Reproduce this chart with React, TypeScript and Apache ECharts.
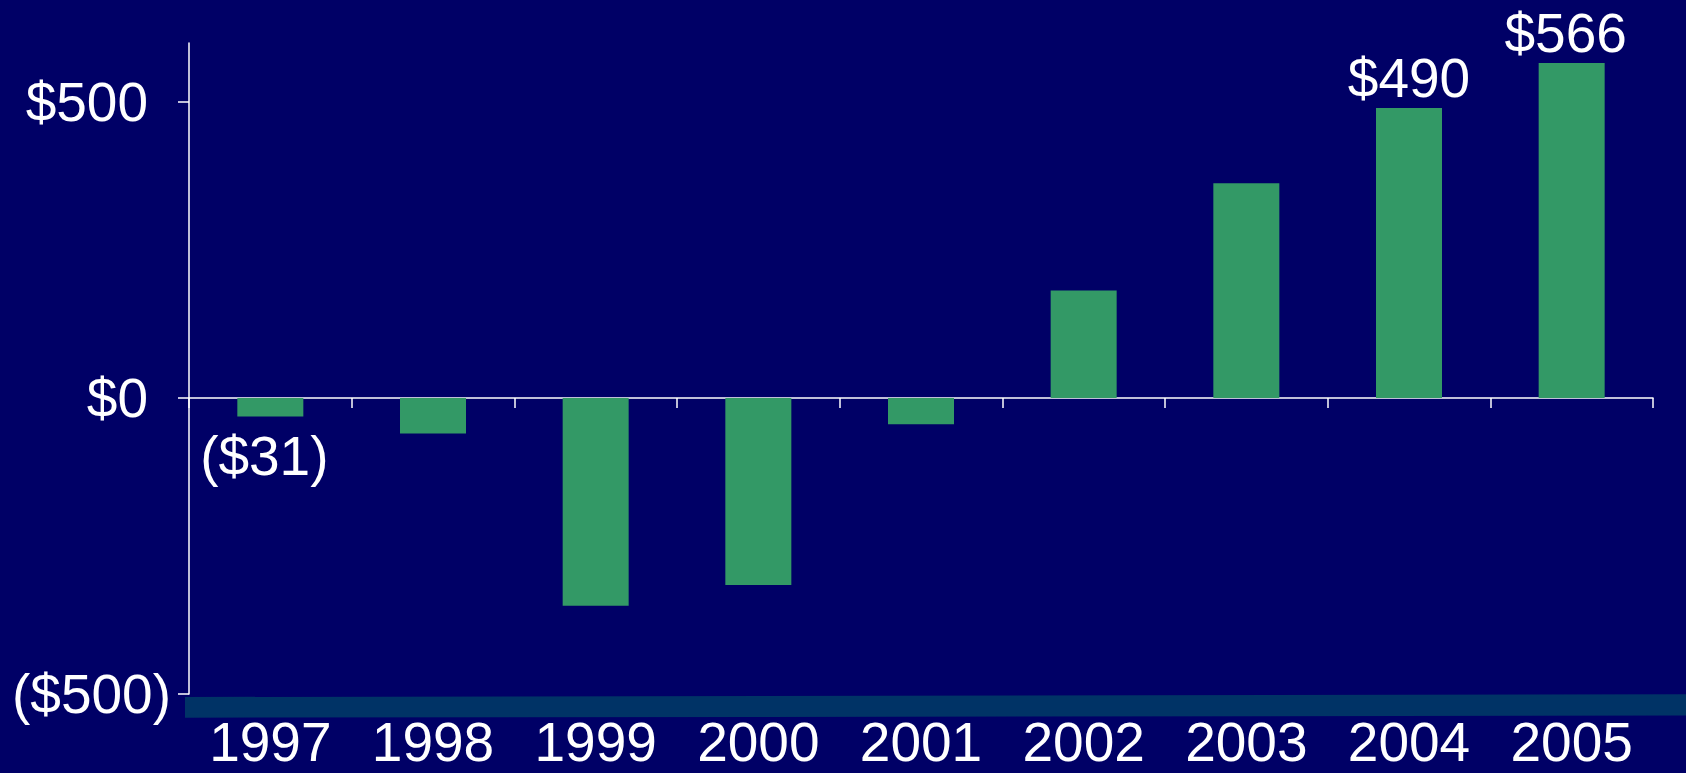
import React, { useEffect, useRef } from 'react';
import * as echarts from 'echarts';

const years = ['1997', '1998', '1999', '2000', '2001', '2002', '2003', '2004', '2005'];
const netIncome = [-31, -60, -351, -316, -44, 182, 363, 490, 566];
const labeledYears = ['1997', '2004', '2005'];
const yTicks = [-500, 0, 500];

const FONT = '"Liberation Sans", Arial, Helvetica, sans-serif';
const BG = '#000066';
const BAR = '#339966';
const BAND = '#003366';
const FS = 55;

const money = (v: number) => (v < 0 ? `($${Math.abs(v)})` : `$${v}`);

export default function App() {
  const ref = useRef<HTMLDivElement>(null);

  useEffect(() => {
    if (!ref.current) return;
    const chart = echarts.init(ref.current, null, { renderer: 'svg' });

    const data = netIncome.map((v, i) => {
      const show = labeledYears.includes(years[i]);
      return {
        value: v,
        label: {
          show,
          position: v < 0 ? 'bottom' : 'top',
          distance: v < 0 ? 12 : 2,
          offset: [years[i] === '2004' ? 0 : -6, 0],
          formatter: () => money(v),
        },
      };
    });

    chart.setOption({
      animation: false,
      backgroundColor: BG,
      textStyle: { fontFamily: FONT },
      grid: { left: 189, right: 33, top: 43, bottom: 79, containLabel: false },
      xAxis: [
        {
          type: 'category',
          data: years,
          position: 'bottom',
          axisLine: { show: true, onZero: true, lineStyle: { color: '#ffffff', width: 1.5 } },
          axisTick: { show: true, length: 10, lineStyle: { color: '#ffffff', width: 1.5 } },
          axisLabel: { show: false },
          splitLine: { show: false },
        },
        {
          type: 'category',
          data: years,
          position: 'bottom',
          axisLine: { show: false, onZero: false },
          axisTick: { show: false },
          axisLabel: {
            show: true,
            color: '#ffffff',
            fontSize: FS,
            lineHeight: 44,
            fontFamily: FONT,
            margin: 26,
          },
          splitLine: { show: false },
        },
      ],
      yAxis: {
        type: 'value',
        min: -500,
        max: 600,
        axisLine: { show: true, lineStyle: { color: '#ffffff', width: 1.5 } },
        axisTick: {
          show: true,
          length: 11,
          customValues: yTicks,
          lineStyle: { color: '#ffffff', width: 1.5 },
        },
        axisLabel: {
          show: true,
          customValues: yTicks,
          color: '#ffffff',
          fontSize: FS,
          fontFamily: FONT,
          margin: 18,
          formatter: (v: number) => (v < 0 ? `{n|${money(v)}}` : `{p|${money(v)}}`),
          rich: {
            n: { color: '#ffffff', fontSize: FS, fontFamily: FONT },
            p: { color: '#ffffff', fontSize: FS, fontFamily: FONT, padding: [0, 23, 0, 0] },
          },
        },
        splitLine: { show: false },
      },
      series: [
        {
          type: 'bar',
          xAxisIndex: 0,
          data,
          barWidth: 66,
          itemStyle: { color: BAR },
          label: { color: '#ffffff', fontSize: FS, lineHeight: 56, fontFamily: FONT },
        },
      ],
      graphic: [
        {
          type: 'polygon',
          z: -1,
          shape: {
            points: [
              [185, 697],
              [1686, 694.3],
              [1686, 715.6],
              [185, 717.7],
            ],
          },
          style: { fill: BAND },
          silent: true,
        },
      ],
    });

    return () => chart.dispose();
  }, []);

  return (
    <div
      ref={ref}
      style={{ position: 'fixed', left: 0, top: 0, width: 1686, height: 773, background: BG }}
    />
  );
}
